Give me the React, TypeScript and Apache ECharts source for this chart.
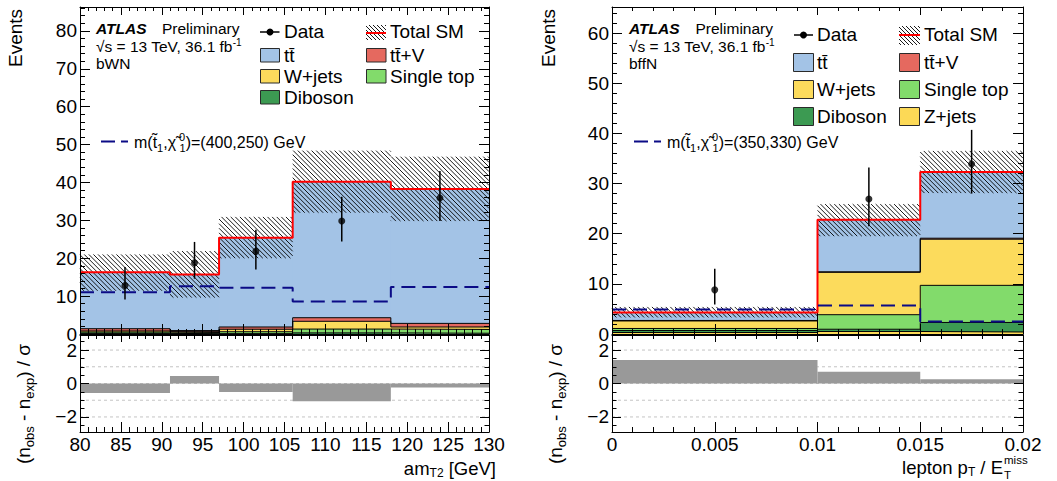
import React, { useEffect, useRef } from "react";
import * as echarts from "echarts";

const FONT = "'Liberation Sans', Arial, Helvetica, sans-serif";

// ---------- colours ----------
const C_TTBAR = "#a3c3e6";
const C_WJETS = "#fcdb5c";
const C_STOP = "#82db6b";
const C_DIBOSON = "#3c9a52";
const C_TTV = "#e5695f";
const C_ZJETS = "#fcd956";
const C_SIGNAL = "#0b0b86";
const C_RATIO = "#999999";

// ---------- Left panel (bWN, am_T2) ----------
const L_EDGES = [80, 91, 97, 106, 118, 130];
const L_DIBOSON = [0.15, 0.1, 0.1, 0.3, 0.2];
const L_SINGLETOP = [0.35, 0.3, 0.5, 1.0, 1.0];
const L_WJETS = [0.3, 0.2, 0.65, 2.05, 0.65];
const L_TTV = [0.6, 0.3, 0.6, 0.95, 0.95];
const L_TTBAR = [14.9, 14.8, 23.55, 35.9, 35.5];
const L_UNC_LO = [11.4, 9.6, 20.0, 32.0, 29.8];
const L_UNC_HI = [21.0, 21.9, 30.9, 48.4, 46.8];
const L_SIGNAL = [11.0, 12.6, 12.2, 8.6, 12.4];
const L_DATA_X = [85.5, 94, 101.5, 112, 124];
const L_DATA_Y = [12.8, 18.8, 21.8, 29.8, 35.9];
const L_DATA_LO = [9.1, 14.6, 17.0, 24.4, 29.8];
const L_DATA_HI = [17.7, 24.3, 27.5, 36.2, 43.0];
const L_SIGNIF = [-0.57, 0.45, -0.51, -1.06, -0.24];

// ---------- Right panel (bffN, lepton pT / ETmiss) ----------
const R_EDGES = [0, 0.01, 0.015, 0.02];
const R_ZJETS = [0.3, 0.5, 0.4];
const R_DIBOSON = [0.4, 0.45, 1.9];
const R_SINGLETOP = [0.4, 2.9, 7.4];
const R_WJETS = [1.5, 8.45, 9.2];
const R_TTV = [0.1, 0.1, 0.2];
const R_TTBAR = [1.6, 10.4, 13.2];
const R_UNC_LO = [3.3, 19.5, 28.1];
const R_UNC_HI = [5.4, 25.9, 36.5];
const R_SIGNAL = [4.9, 5.7, 2.5];
const R_DATA_X = [0.005, 0.0125, 0.0175];
const R_DATA_Y = [8.8, 26.9, 33.9];
const R_DATA_LO = [5.9, 21.5, 28.0];
const R_DATA_HI = [13.0, 33.2, 40.7];
const R_SIGNIF = [1.4, 0.71, 0.25];

// ---------- tick labels ----------
const RATIO_MAJOR = [-2, 0, 2];
const RATIO_MINOR = [-2.5, -1.5, -1, -0.5, 0.5, 1, 1.5, 2.5];
const RATIO_GRID = [-2, -1, 0, 1, 2];

const AX = { color: "#000", width: 1 };

function makeRectItem(extend: number) {
  return function (params: any, api: any) {
    const a = api.coord([api.value(0), api.value(3)]);
    const b = api.coord([api.value(1), api.value(2)]);
    return {
      type: "rect",
      shape: { x: a[0], y: a[1], width: b[0] - a[0] + extend, height: b[1] - a[1] },
      style: { fill: api.visual("color") },
    };
  };
}
const stackRectItem = makeRectItem(0.8);
const ratioRectItem = makeRectItem(0);

function hatchLines(x0: number, y0: number, x1: number, y1: number, s: number, z?: number) {
  const els: any[] = [];
  for (let c = Math.ceil((y0 - x1) / s) * s; c <= y1 - x0; c += s) {
    const xs = Math.max(x0, y0 - c);
    const xe = Math.min(x1, y1 - c);
    if (xe > xs) {
      const el: any = {
        type: "line",
        shape: { x1: xs, y1: xs + c, x2: xe, y2: xe + c },
        style: { stroke: "#000", lineWidth: 0.9 },
      };
      if (z !== undefined) { el.z = z; el.silent = true; }
      els.push(el);
    }
  }
  return els;
}

function hatchItem(params: any, api: any) {
  const a = api.coord([api.value(0), api.value(3)]);
  const b = api.coord([api.value(1), api.value(2)]);
  return { type: "group", children: hatchLines(a[0], a[1], b[0], b[1], 4.6) };
}

function errItem(params: any, api: any) {
  const a = api.coord([api.value(0), api.value(1)]);
  const b = api.coord([api.value(0), api.value(2)]);
  return {
    type: "line",
    shape: { x1: a[0], y1: a[1], x2: b[0], y2: b[1] },
    style: { stroke: "#000", lineWidth: 1.5 },
  };
}

function stepLine(edges: number[], vals: number[], xi: number, yi: number, lineStyle: any, z: number) {
  const data: number[][] = vals.map((v, i) => [edges[i], v]);
  data.push([edges[edges.length - 1], vals[vals.length - 1]]);
  return {
    type: "line", xAxisIndex: xi, yAxisIndex: yi, step: "end", data,
    symbol: "none", showSymbol: false, lineStyle, z, silent: true,
  };
}

function panelSeries(cfg: any) {
  const { edges, comps, uncLo, uncHi, signal, dx, dy, dlo, dhi, signif, mx, my, rx, ry } = cfg;
  const out: any[] = [];
  let base: number[] = comps[0].vals.map(() => 0);
  comps.forEach((c: any, k: number) => {
    const top = base.map((b, i) => b + c.vals[i]);
    out.push({
      type: "custom", xAxisIndex: mx, yAxisIndex: my, z: 1, silent: true,
      renderItem: stackRectItem, itemStyle: { color: c.color },
      encode: { x: [0, 1], y: [2, 3] },
      data: top.map((t, i) => [edges[i], edges[i + 1], base[i], t]),
    });
    if (k < comps.length - 1) out.push(stepLine(edges, top, mx, my, { color: "#000", width: 1 }, 2));
    base = top;
  });
  const total = base;
  out.push({
    type: "custom", xAxisIndex: mx, yAxisIndex: my, z: 3, silent: true,
    renderItem: hatchItem, encode: { x: [0, 1], y: [2, 3] },
    data: uncLo.map((lo: number, i: number) => [edges[i], edges[i + 1], lo, uncHi[i]]),
  });
  out.push(stepLine(edges, total, mx, my, { color: "#ff0000", width: 2 }, 4));
  out.push(stepLine(edges, signal, mx, my, { color: C_SIGNAL, width: 2, type: [14, 7] }, 5));
  out.push({
    type: "custom", xAxisIndex: mx, yAxisIndex: my, z: 6, silent: true,
    renderItem: errItem, encode: { x: 0, y: [1, 2] },
    data: dx.map((x: number, i: number) => [x, dlo[i], dhi[i]]),
  });
  out.push({
    type: "scatter", xAxisIndex: mx, yAxisIndex: my, z: 7, silent: true,
    symbol: "circle", symbolSize: 7, itemStyle: { color: "#000" },
    data: dx.map((x: number, i: number) => [x, dy[i]]),
  });
  RATIO_GRID.forEach((v) =>
    out.push({
      type: "line", xAxisIndex: rx, yAxisIndex: ry, z: 1, silent: true, symbol: "none",
      data: [[edges[0], v], [edges[edges.length - 1], v]],
      lineStyle: { color: "#c4c4c4", width: 1, type: [3, 3] },
    })
  );
  out.push({
    type: "custom", xAxisIndex: rx, yAxisIndex: ry, z: 2, silent: true,
    renderItem: ratioRectItem, itemStyle: { color: C_RATIO }, encode: { x: [0, 1], y: [2, 3] },
    data: signif.map((v: number, i: number) => [edges[i], edges[i + 1], Math.min(0, v), Math.max(0, v)]),
  });
  return out;
}

function mkAxis(o: any) {
  const tick: any = { show: true, inside: true, length: o.major, lineStyle: AX };
  if (o.tickValues) tick.customValues = o.tickValues;
  const label: any = o.labels
    ? { show: true, interval: 0, margin: o.margin, color: "#000", fontFamily: FONT, fontSize: 19, formatter: o.fmt, showMaxLabel: o.showMax !== false }
    : { show: false };
  if (o.labels && o.labelValues) label.customValues = o.labelValues;
  const ax: any = {
    type: "value", gridIndex: o.grid, min: o.min, max: o.max, position: o.pos, z: 10,
    axisLine: { show: o.line !== false, onZero: false, lineStyle: AX },
    axisTick: tick,
    minorTick: { show: !!o.minorSplit, splitNumber: o.minorSplit || 5, length: o.minor || 4, lineStyle: AX },
    axisLabel: label,
    splitLine: { show: false },
    minorSplitLine: { show: false },
  };
  if (o.interval !== undefined) ax.interval = o.interval;
  return ax;
}

const fmtInt = (v: number) => String(Math.round(v));
const fmtMain = (v: number) => (Math.abs(v - Math.round(v / 10) * 10) < 1e-6 ? String(Math.round(v)) : "");
const fmtRatio = (v: number) => (v < 0 ? "\u2212" + String(-v) : String(v));
const fmtSmall = (v: number) => {
  const r = Math.round(v * 1000) / 1000;
  return r === 0 ? "0" : String(r);
};

function T(x: number, y: number, text: string, o: any = {}, extra: any = {}) {
  return {
    type: "text", x, y, z: 50, silent: true, ...extra,
    style: { text, fill: "#000", fontFamily: FONT, fontSize: 19, align: "left", verticalAlign: "middle", ...o },
  };
}
function box(x: number, y: number, w: number, h: number, fill: string) {
  return { type: "rect", z: 50, silent: true, shape: { x, y, width: w, height: h }, style: { fill, stroke: "#2a2a2a", lineWidth: 1 } };
}
function seg(x1: number, y1: number, x2: number, y2: number, stroke: string, lw: number, dash?: number[]) {
  const style: any = { stroke, lineWidth: lw };
  if (dash) style.lineDash = dash;
  return { type: "line", z: 51, silent: true, shape: { x1, y1, x2, y2 }, style };
}

const richBase = (fs: number, lh: number) => ({ fontSize: fs, lineHeight: lh, fontFamily: FONT, fill: "#000" });

function panelTexts(p: any) {
  const els: any[] = [];
  // ATLAS block
  els.push(T(p.ax, 28, "ATLAS", { fontWeight: "bold", fontStyle: "italic", fontSize: 15.5 }));
  els.push(T(p.prelimX, 28, "Preliminary", { fontSize: 15.5 }));
  els.push(T(p.ax, 46, "{a|\u221As = 13 TeV, 36.1 fb}{p|-1}", {
    fontSize: 15.5,
    rich: { a: richBase(15.5, 18), p: { ...richBase(10, 10), verticalAlign: "top" } },
  }));
  els.push(T(p.ax, 63, p.region, { fontSize: 15.5 }));
  // signal legend
  els.push(seg(p.sigX1, 141.5, p.sigX2, 141.5, C_SIGNAL, 2, [14, 6]));
  els.push(T(p.sigTX, 142, "{m|m(t\u0303}{s|1}{m|,\u03C7\u0303}{p|0}{s|1}{m|)=" + p.sigText + " GeV}", {
    fontSize: 16,
    rich: {
      m: richBase(16, 22),
      s: { ...richBase(11, 11), verticalAlign: "bottom" },
      p: { ...richBase(11, 11), verticalAlign: "top", width: 0.5, padding: [0, 0, 0, 3] },
    },
  }));
  // y titles
  els.push(T(p.evX, 38, "Events", { align: "center" }, { rotation: Math.PI / 2 }));
  els.push(T(p.ratioTX, 404, "{m|(n}{s|obs}{m| - n}{s|exp}{m|) / \u03C3}", {
    align: "center",
    rich: { m: richBase(19, 25), s: { ...richBase(13, 13), verticalAlign: "bottom" } },
  }, { rotation: Math.PI / 2 }));
  return els;
}

function legendLeft() {
  const els: any[] = [];
  els.push(seg(260, 32, 279.5, 32, "#000", 1.5));
  els.push({ type: "circle", z: 52, silent: true, shape: { cx: 270, cy: 32, r: 3.5 }, style: { fill: "#000" } });
  els.push(T(284, 31, "Data"));
  els.push(box(260.5, 48.5, 19, 13.5, C_TTBAR));
  els.push(T(284, 55.5, "tt\u0304"));
  els.push(box(260.5, 69.5, 19, 13.5, C_WJETS));
  els.push(T(284, 76, "W+jets"));
  els.push(box(260.5, 90.5, 19, 13.5, C_DIBOSON));
  els.push(T(284, 97.5, "Diboson"));
  els.push(...hatchLines(366, 25, 386, 40, 4, 50));
  els.push(seg(366, 33, 386, 33, "#ff0000", 2));
  els.push(T(390, 31, "Total SM"));
  els.push(box(366.5, 48.5, 19.5, 13.5, C_TTV));
  els.push(T(390, 55.5, "tt\u0304+V"));
  els.push(box(366.5, 69.5, 19.5, 13.5, C_STOP));
  els.push(T(390, 76, "Single top"));
  return els;
}

function legendRight() {
  const els: any[] = [];
  els.push(seg(794, 35, 813, 35, "#000", 1.5));
  els.push({ type: "circle", z: 52, silent: true, shape: { cx: 803.5, cy: 35, r: 3.5 }, style: { fill: "#000" } });
  els.push(T(817, 34.5, "Data"));
  els.push(box(793.5, 53.5, 20, 18, C_TTBAR));
  els.push(T(817, 62.5, "tt\u0304"));
  els.push(box(793.5, 80.5, 20, 18, C_WJETS));
  els.push(T(817, 89, "W+jets"));
  els.push(box(793.5, 107.5, 20, 18, C_DIBOSON));
  els.push(T(817, 116, "Diboson"));
  els.push(...hatchLines(899, 26, 920, 45, 4, 50));
  els.push(seg(899, 35, 920, 35, "#ff0000", 2));
  els.push(T(924, 34.5, "Total SM"));
  els.push(box(899.5, 53.5, 20, 18, C_TTV));
  els.push(T(924, 62.5, "tt\u0304+V"));
  els.push(box(899.5, 80.5, 20, 18, C_STOP));
  els.push(T(924, 89, "Single top"));
  els.push(box(899.5, 107.5, 20, 18, C_ZJETS));
  els.push(T(924, 116, "Z+jets"));
  return els;
}

function buildOption() {
  const grid = [
    { left: 80, top: 7, width: 409, height: 327 },
    { left: 80, top: 335, width: 409, height: 97 },
    { left: 612, top: 7, width: 411, height: 327 },
    { left: 612, top: 335, width: 411, height: 97 },
  ];
  const LMAX = 86.3;
  const RMAX = 65.2;
  const xAxis = [
    mkAxis({ grid: 0, min: 80, max: 130, interval: 5, pos: "bottom", major: 10, minor: 5, minorSplit: 5 }),
    mkAxis({ grid: 0, min: 80, max: 130, interval: 5, pos: "top", major: 8, minor: 4, minorSplit: 5 }),
    mkAxis({ grid: 1, min: 80, max: 130, interval: 5, pos: "bottom", major: 10, minor: 5, minorSplit: 5, labels: true, margin: 3, fmt: fmtInt }),
    mkAxis({ grid: 1, min: 80, max: 130, interval: 5, pos: "top", major: 7, minor: 4, minorSplit: 5 }),
    mkAxis({ grid: 2, min: 0, max: 0.02, interval: 0.005, pos: "bottom", major: 10, minor: 5, minorSplit: 5 }),
    mkAxis({ grid: 2, min: 0, max: 0.02, interval: 0.005, pos: "top", major: 8, minor: 4, minorSplit: 5 }),
    mkAxis({ grid: 3, min: 0, max: 0.02, interval: 0.005, pos: "bottom", major: 10, minor: 5, minorSplit: 5, labels: true, margin: 3, fmt: fmtSmall }),
    mkAxis({ grid: 3, min: 0, max: 0.02, interval: 0.005, pos: "top", major: 7, minor: 4, minorSplit: 5 }),
  ];
  const yAxis = [
    mkAxis({ grid: 0, min: 0, max: LMAX, interval: 10, pos: "left", major: 10, minor: 5, minorSplit: 5, labels: true, margin: 3, fmt: fmtMain, showMax: false }),
    mkAxis({ grid: 0, min: 0, max: LMAX, interval: 10, pos: "right", major: 10, minor: 5, minorSplit: 5 }),
    mkAxis({ grid: 1, min: -2.9, max: 2.9, pos: "left", major: 9, tickValues: RATIO_MAJOR, labels: true, labelValues: RATIO_MAJOR, margin: 3, fmt: fmtRatio }),
    mkAxis({ grid: 1, min: -2.9, max: 2.9, pos: "right", major: 9, tickValues: RATIO_MAJOR }),
    mkAxis({ grid: 1, min: -2.9, max: 2.9, pos: "left", major: 4.5, tickValues: RATIO_MINOR, line: false }),
    mkAxis({ grid: 1, min: -2.9, max: 2.9, pos: "right", major: 4.5, tickValues: RATIO_MINOR, line: false }),
    mkAxis({ grid: 2, min: 0, max: RMAX, interval: 10, pos: "left", major: 10, minor: 5, minorSplit: 5, labels: true, margin: 3, fmt: fmtMain, showMax: false }),
    mkAxis({ grid: 2, min: 0, max: RMAX, interval: 10, pos: "right", major: 10, minor: 5, minorSplit: 5 }),
    mkAxis({ grid: 3, min: -2.9, max: 2.9, pos: "left", major: 9, tickValues: RATIO_MAJOR, labels: true, labelValues: RATIO_MAJOR, margin: 3, fmt: fmtRatio }),
    mkAxis({ grid: 3, min: -2.9, max: 2.9, pos: "right", major: 9, tickValues: RATIO_MAJOR }),
    mkAxis({ grid: 3, min: -2.9, max: 2.9, pos: "left", major: 4.5, tickValues: RATIO_MINOR, line: false }),
    mkAxis({ grid: 3, min: -2.9, max: 2.9, pos: "right", major: 4.5, tickValues: RATIO_MINOR, line: false }),
  ];

  const leftSeries = panelSeries({
    edges: L_EDGES,
    comps: [
      { vals: L_DIBOSON, color: C_DIBOSON },
      { vals: L_SINGLETOP, color: C_STOP },
      { vals: L_WJETS, color: C_WJETS },
      { vals: L_TTV, color: C_TTV },
      { vals: L_TTBAR, color: C_TTBAR },
    ],
    uncLo: L_UNC_LO, uncHi: L_UNC_HI, signal: L_SIGNAL,
    dx: L_DATA_X, dy: L_DATA_Y, dlo: L_DATA_LO, dhi: L_DATA_HI,
    signif: L_SIGNIF, mx: 0, my: 0, rx: 2, ry: 2,
  });
  const rightSeries = panelSeries({
    edges: R_EDGES,
    comps: [
      { vals: R_ZJETS, color: C_ZJETS },
      { vals: R_DIBOSON, color: C_DIBOSON },
      { vals: R_SINGLETOP, color: C_STOP },
      { vals: R_WJETS, color: C_WJETS },
      { vals: R_TTV, color: C_TTV },
      { vals: R_TTBAR, color: C_TTBAR },
    ],
    uncLo: R_UNC_LO, uncHi: R_UNC_HI, signal: R_SIGNAL,
    dx: R_DATA_X, dy: R_DATA_Y, dlo: R_DATA_LO, dhi: R_DATA_HI,
    signif: R_SIGNIF, mx: 4, my: 6, rx: 6, ry: 8,
  });

  const graphics: any[] = [
    ...panelTexts({ ax: 96, prelimX: 162, region: "bWN", sigX1: 101, sigX2: 128, sigTX: 134, sigText: "(400,250)", evX: 15, ratioTX: 23 }),
    ...panelTexts({ ax: 629, prelimX: 695.5, region: "bffN", sigX1: 634, sigX2: 661, sigTX: 667, sigText: "(350,330)", evX: 548.5, ratioTX: 555 }),
    ...legendLeft(),
    ...legendRight(),
    T(496, 468, "{a|am}{s|T2}{a| [GeV]}", {
      align: "right",
      rich: { a: richBase(18.5, 22), s: { ...richBase(12, 12), verticalAlign: "bottom" } },
    }),
    T(1003, 467, "{a|lepton p}{s|T}{a| / E}", {
      align: "right",
      rich: { a: richBase(18.5, 22), s: { ...richBase(12, 12), verticalAlign: "bottom" } },
    }),
    T(1004, 460, "miss", { fontSize: 11.5 }),
    T(1004, 475, "T", { fontSize: 11.5 }),
  ];

  return {
    animation: false,
    backgroundColor: "#ffffff",
    grid,
    xAxis,
    yAxis,
    series: [...leftSeries, ...rightSeries],
    graphic: { elements: graphics },
  };
}

export default function App() {
  const ref = useRef<HTMLDivElement>(null);
  useEffect(() => {
    if (!ref.current) return;
    const chart = echarts.init(ref.current, null, { renderer: "svg" });
    chart.setOption(buildOption() as any);
    return () => chart.dispose();
  }, []);
  return (
    <div
      ref={ref}
      style={{ position: "absolute", left: 0, top: 0, width: 1057, height: 481, background: "#fff" }}
    />
  );
}
